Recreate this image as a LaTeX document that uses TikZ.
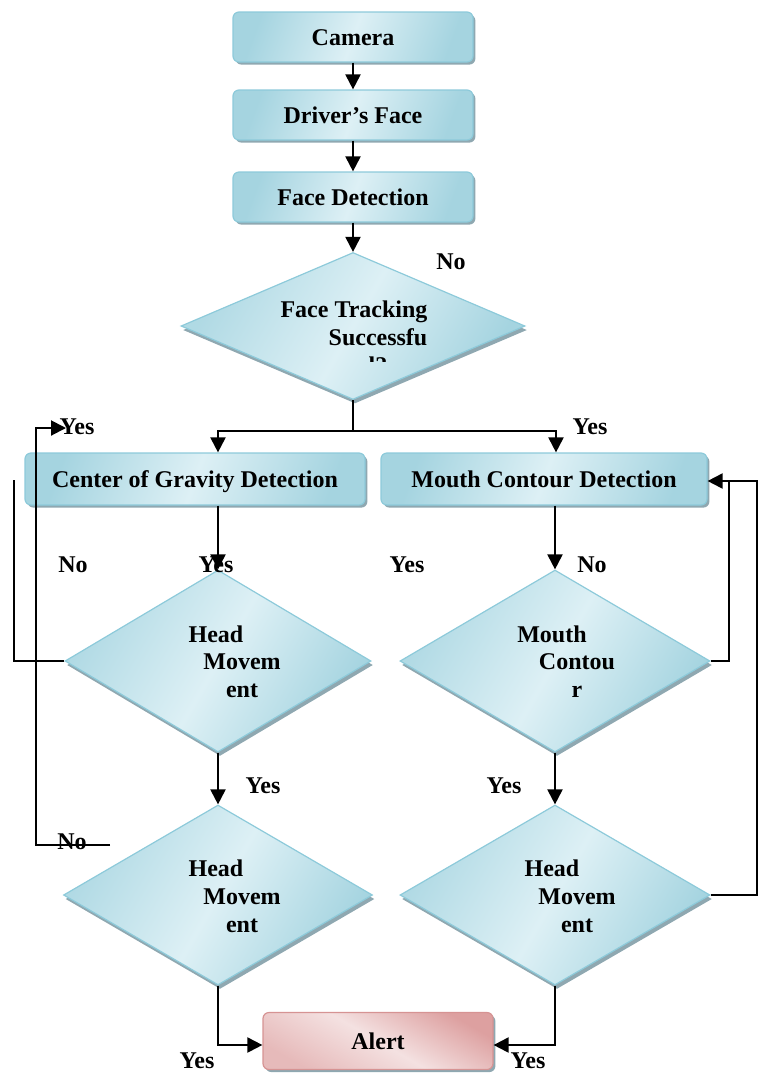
\documentclass[tikz,border=0pt]{standalone}
\usepackage{fontspec}
\setmainfont{Liberation Serif}
\usetikzlibrary{shapes.geometric,arrows.meta,shadows}

\definecolor{boxlight}{HTML}{DDF0F5}
\definecolor{boxdark}{HTML}{A5D4E0}
\definecolor{boxedge}{HTML}{8DCADA}
\definecolor{shadowgray}{HTML}{8FA8B1}
\definecolor{alertlight}{HTML}{F4E1E1}
\definecolor{alertdark}{HTML}{DDA0A0}
\definecolor{alertedge}{HTML}{D69393}

\begin{document}
\begin{tikzpicture}[x=0.5pt, y=-0.5pt,
	every node/.style={font=\bfseries\fontsize{12}{14}\selectfont},
	procbox/.style={rectangle, rounded corners=3pt, draw=boxedge, line width=0.6pt, inner sep=0pt,
		text height=9.5pt, text depth=1pt,
		left color=boxdark, right color=boxdark, shading angle=70, middle color=boxlight,
		drop shadow={shadow xshift=1.2pt, shadow yshift=-1.3pt, fill=shadowgray, opacity=1}},
	alertbox/.style={procbox, draw=alertedge, left color=alertdark!60!alertlight, right color=alertdark, shading angle=150, middle color=alertlight},
	decision/.style={diamond, draw=boxedge, line width=0.6pt, inner sep=0pt,
		left color=boxdark!80!boxlight, right color=boxdark, shading angle=60, middle color=boxlight,
		drop shadow={shadow xshift=1pt, shadow yshift=-2pt, fill=shadowgray, opacity=1}},
	lbl/.style={inner sep=0pt, text height=8pt, text depth=2pt},
	conn/.style={line width=1pt},
	arrow/.style={conn, -{Triangle[length=7.5pt,width=7.5pt]}}]
	% Page of the same size as the reference
	\path[use as bounding box] (0,0) rectangle (760,1073);
	
	%% Top chain
	\node[procbox, minimum width=120pt, minimum height=25pt] (camera) at (353,37) {Camera};
	\node[procbox, minimum width=120pt, minimum height=25pt] (face) at (353,115) {Driver’s Face};
	\node[procbox, minimum width=120pt, minimum height=25pt] (detect) at (353,197) {Face Detection};
	
	% Decision face tracking
	\node[decision, minimum width=172pt, minimum height=73.5pt] (track) at (353,326) {};
	\node[lbl] (trackA) at (354,311) {Face Tracking};
	\node[lbl] (trackB) at (378,339) {Successfu};
	\begin{scope}
		\clip (300,345) rectangle (460,361);
		\node[lbl] (trackC) at (378,367) {l?};
	\end{scope}
	\node[lbl] (noTrack) at (451,263) {No};
	
	%% Left column
	\node[procbox, minimum width=170pt, minimum height=26pt] (cog) at (195,479) {Center of Gravity Detection};
	
	\node[decision, minimum width=153pt, minimum height=91pt] (hm1) at (218,661) {};
	\node[lbl] (hm1A) at (216,636) {Head};
	\node[lbl] (hm1B) at (242,663) {Movem};
	\node[lbl] (hm1C) at (242,691) {ent};
	
	\node[decision, minimum width=154.5pt, minimum height=90pt] (hm2) at (218,895) {};
	\node[lbl] (hm2A) at (216,870) {Head};
	\node[lbl] (hm2B) at (242,898) {Movem};
	\node[lbl] (hm2C) at (242,926) {ent};
	
	%% Right column
	\node[procbox, minimum width=163pt, minimum height=26pt] (mouth) at (544,479) {Mouth Contour Detection};
	
	\node[decision, minimum width=155pt, minimum height=91pt] (mc) at (555,661) {};
	\node[lbl] (mcA) at (552,636) {Mouth};
	\node[lbl] (mcB) at (577,663) {Contou};
	\node[lbl] (mcC) at (577,691) {r};
	
	\node[decision, minimum width=155pt, minimum height=90pt] (rhm) at (555,895) {};
	\node[lbl] (rhmA) at (552,870) {Head};
	\node[lbl] (rhmB) at (577,898) {Movem};
	\node[lbl] (rhmC) at (577,926) {ent};
	
	% Alert
	\node[alertbox, minimum width=115pt, minimum height=28.5pt] (alert) at (378,1041) {Alert};
	
	%% Yes / No labels
	\node[lbl] (yesBack) at (77,428) {Yes};
	\node[lbl] (yesMouth) at (590,428) {Yes};
	\node[lbl] (noCog) at (73,566) {No};
	\node[lbl] (yesCog) at (216,566) {Yes};
	\node[lbl] (yesMc) at (407,566) {Yes};
	\node[lbl] (noMc) at (592,566) {No};
	\node[lbl] (yesHm1) at (263,787) {Yes};
	\node[lbl] (yesMc2) at (504,787) {Yes};
	\node[lbl] (noHm2) at (72,843) {No};
	\node[lbl] (yesHm2) at (197,1062) {Yes};
	\node[lbl] (yesRhm) at (528,1062) {Yes};
	
	%% Connectors
	\draw[arrow] (camera.south) -- (face.north);
	\draw[arrow] (face.south) -- (detect.north);
	\draw[arrow] (detect.south) -- (track.north);
	
	% Split to both columns
	\coordinate (splitL) at (218,431);
	\coordinate (splitR) at (556,431);
	\draw[arrow] (track.south) |- (splitL) -- (splitL |- cog.north);
	\draw[arrow] (splitL) -| (splitR |- mouth.north);
	
	\draw[arrow] (cog.south -| hm1.north) -- (hm1.north);
	\draw[arrow] (hm1.south) -- (hm2.north);
	\draw[arrow] (mouth.south -| mc.north) -- (mc.north);
	\draw[arrow] (mc.south) -- (rhm.north);
	
	% To the alert
	\draw[arrow] (hm2.south) |- ([yshift=-2pt]alert.west);
	\draw[arrow] (rhm.south) |- ([yshift=-2pt]alert.east);
	
	% Left loops
	\coordinate (leftTop) at (14,480);
	\draw[conn] (hm1.west) -| (leftTop);
	\coordinate (backStart) at (110,845);
	\coordinate (backCorner) at (36,428);
	\coordinate (backEnd) at (66,428);
	\draw[arrow] (backStart) -| (backCorner) -- (backEnd);
	
	% Right loops
	\coordinate (rightInner) at (729,481);
	\coordinate (rightOuter) at (757,481);
	\draw[conn] (mc.east) -| (rightInner);
	\draw[arrow] (rhm.east) -| (rightOuter) -- (mouth.east |- rightOuter);
	
\end{tikzpicture}
\end{document}
